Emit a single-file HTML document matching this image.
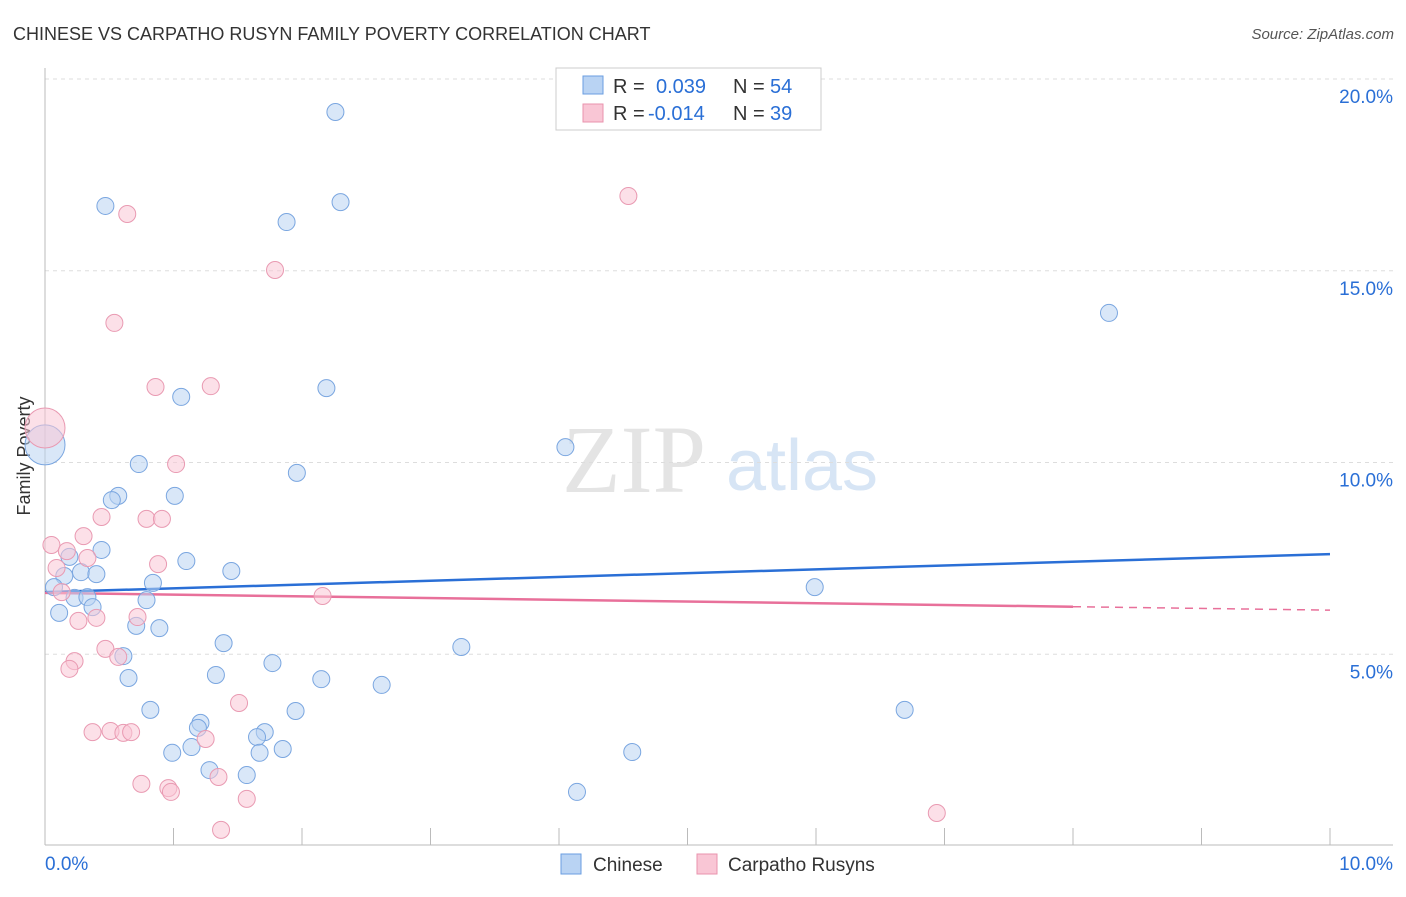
<!DOCTYPE html>
<html><head><meta charset="utf-8">
<style>
body{margin:0;background:#fff;font-family:"Liberation Sans",sans-serif;}
</style></head>
<body>
<svg id="chart" width="1406" height="892" xmlns="http://www.w3.org/2000/svg" font-family="Liberation Sans, sans-serif">
<text x="13" y="40" font-size="18" fill="#333">CHINESE VS CARPATHO RUSYN FAMILY POVERTY CORRELATION CHART</text>
<text x="1394" y="39" font-size="15" fill="#555" font-style="italic" text-anchor="end">Source: ZipAtlas.com</text>
<g>
<text x="634" y="492" font-size="96" fill="#e4e4e4" text-anchor="middle" style="font-family:'Liberation Serif',serif">ZIP</text>
<text x="802" y="490" font-size="72" fill="#d7e5f5" text-anchor="middle">atlas</text>
</g>
<g id="grid"></g>
<g id="axes"></g>
<text x="30" y="456" font-size="18" fill="#333" text-anchor="middle" transform="rotate(-90 30 456)">Family Poverty</text>
<g id="lines"></g>
<g id="points"></g>
<g>
<rect x="556" y="68" width="265" height="62" fill="#fff" stroke="#ccc"/>
<rect x="583" y="76" width="20" height="18" fill="#b9d3f3" stroke="#6a9ee0"/>
<rect x="583" y="104" width="20" height="18" fill="#f9c6d5" stroke="#e993ad"/>
<text x="613" y="93" font-size="20" fill="#333">R = <tspan fill="#2a6fd6" x="656">0.039</tspan><tspan x="733">N = </tspan><tspan fill="#2a6fd6" x="770">54</tspan></text>
<text x="613" y="120" font-size="20" fill="#333">R = <tspan fill="#2a6fd6" x="648">-0.014</tspan><tspan x="733">N = </tspan><tspan fill="#2a6fd6" x="770">39</tspan></text>
</g>
<g>
<rect x="561" y="854" width="20" height="20" fill="#b9d3f3" stroke="#6a9ee0"/>
<text x="593" y="871" font-size="19" fill="#333">Chinese</text>
<rect x="697" y="854" width="20" height="20" fill="#f9c6d5" stroke="#e993ad"/>
<text x="728" y="871" font-size="19" fill="#333">Carpatho Rusyns</text>
</g>
</svg>
<script>
const yTicks=[5,10,15,20];
const yTickLabels=["5.0%","10.0%","15.0%","20.0%"];
const xTickLabels=["0.0%","10.0%"];
const chineseX=[2.26,0.47,2.30,1.88,8.28,1.06,2.19,4.05,0.0,0.73,1.96,0.57,1.01,0.52,0.44,0.19,1.10,1.45,0.28,0.40,0.15,0.84,0.07,5.99,0.23,0.33,0.79,0.37,0.11,0.71,0.89,1.39,3.24,0.61,1.77,1.33,0.65,2.15,2.62,0.82,1.95,6.69,1.21,1.19,1.71,1.65,1.14,0.99,1.67,1.85,4.57,1.28,1.57,4.14];
const chineseY=[19.14,16.69,16.79,16.27,13.90,11.71,11.94,10.40,10.46,9.96,9.73,9.13,9.13,9.02,7.72,7.54,7.43,7.17,7.14,7.09,7.04,6.86,6.75,6.75,6.47,6.49,6.41,6.23,6.08,5.74,5.68,5.29,5.19,4.95,4.77,4.46,4.38,4.35,4.20,3.55,3.52,3.55,3.21,3.08,2.97,2.84,2.58,2.43,2.43,2.53,2.45,1.98,1.85,1.41];
const rusynX=[4.54,0.64,1.79,0.54,0.86,1.29,0,1.02,0.44,0.79,0.91,0.30,0.05,0.17,0.33,0.09,0.88,0.13,2.16,0.40,0.26,0.72,0.47,0.23,0.19,0.57,1.51,0.37,0.51,0.61,0.67,1.25,0.75,0.96,0.98,1.35,1.57,1.37,6.94];
const rusynY=[16.95,16.48,15.02,13.64,11.97,11.99,10.90,9.96,8.58,8.53,8.53,8.08,7.85,7.69,7.51,7.25,7.35,6.62,6.52,5.95,5.87,5.97,5.14,4.82,4.62,4.93,3.73,2.97,3.00,2.95,2.97,2.79,1.62,1.51,1.41,1.80,1.23,0.42,0.86];
const chineseTrend=[6.62,7.61];
const rusynTrend=[6.60,6.15];
const NS="http://www.w3.org/2000/svg";
const X=v=>45+v*128.5, Y=v=>846-v*38.35;
function mk(tag,attrs,parent){const e=document.createElementNS(NS,tag);for(const k in attrs)e.setAttribute(k,attrs[k]);parent.appendChild(e);return e;}
const grid=document.getElementById('grid'),axes=document.getElementById('axes'),lines=document.getElementById('lines'),pts=document.getElementById('points');
yTicks.forEach((t,i)=>{
 const g=mk('line',{x1:45,x2:1393,y1:Y(t),y2:Y(t),stroke:'#ddd','stroke-dasharray':'4,4'},grid);
 
 
 const tx=mk('text',{x:1393,y:Y(t)+24,'font-size':19,fill:'#2a6fd6','text-anchor':'end'},axes);
 tx.textContent=yTickLabels[i];
 
 
});
mk('line',{x1:45,x2:45,y1:68,y2:845,stroke:'#bbb'},axes);
mk('line',{x1:45,x2:1393,y1:845,y2:845,stroke:'#bbb'},axes);
for(let i=0;i<=10;i++){const t=mk('line',{x1:X(i),x2:X(i),y1:828,y2:845,stroke:'#bbb'},axes);
 
 }
const xl0=mk('text',{x:45,y:870,'font-size':19,fill:'#2a6fd6'},axes);xl0.textContent=xTickLabels[0];


const xl1=mk('text',{x:1393,y:870,'font-size':19,fill:'#2a6fd6','text-anchor':'end'},axes);xl1.textContent=xTickLabels[1];


function dot(x,y,big,fill,stroke,name){
 const c=mk('circle',{cx:X(x),cy:Y(y),r:big?20:8.5,fill:fill,'fill-opacity':0.55,stroke:stroke,'stroke-width':1},pts);
 
 
}
chineseX.forEach((x,i)=>dot(x,chineseY[i],x===0,'#b9d3f3','#7aa6e0','chinese-point'));
rusynX.forEach((x,i)=>dot(x,rusynY[i],x===0,'#f9c6d5','#e99ab2','rusyn-point'));
const bl=mk('line',{x1:X(0),y1:Y(chineseTrend[0]),x2:X(10),y2:Y(chineseTrend[1]),stroke:'#2a6fd6','stroke-width':2.5},lines);


const ry=x=>rusynTrend[0]+(rusynTrend[1]-rusynTrend[0])*x/10;
const pl=mk('line',{x1:X(0),y1:Y(ry(0)),x2:X(8),y2:Y(ry(8)),stroke:'#e8709a','stroke-width':2.5},lines);


const pd=mk('line',{x1:X(8),y1:Y(ry(8)),x2:X(10),y2:Y(ry(10)),stroke:'#e8709a','stroke-width':1.5,'stroke-dasharray':'8,6'},lines);


</script>
</body></html>
